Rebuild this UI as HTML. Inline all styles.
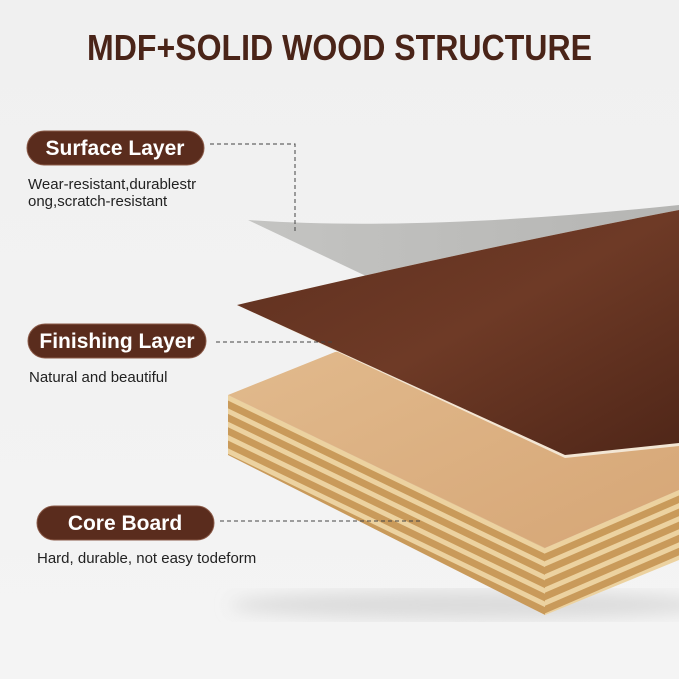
<!DOCTYPE html>
<html><head><meta charset="utf-8"><style>
html,body{margin:0;padding:0;background:#f0f0f0;}
svg{display:block}
text{font-family:"Liberation Sans",sans-serif}
</style></head><body>
<svg width="679" height="679" viewBox="0 0 679 679" xmlns="http://www.w3.org/2000/svg">
<defs>
<linearGradient id="bg" x1="0" y1="0" x2="0" y2="1"><stop offset="0" stop-color="#f0f0f0"/><stop offset="1" stop-color="#f4f4f4"/></linearGradient>
<linearGradient id="wal" x1="0" y1="0" x2="1" y2="1"><stop offset="0" stop-color="#5e2f1f"/><stop offset="0.5" stop-color="#6e3a26"/><stop offset="1" stop-color="#4f2618"/></linearGradient>
<linearGradient id="top" x1="0" y1="0" x2="1" y2="1"><stop offset="0" stop-color="#e2bb8e"/><stop offset="1" stop-color="#d6a676"/></linearGradient>
<linearGradient id="gray" x1="0" y1="0" x2="1" y2="0"><stop offset="0" stop-color="#c4c4c2"/><stop offset="1" stop-color="#b5b5b3"/></linearGradient>
<pattern id="layers" width="10" height="12" patternUnits="userSpaceOnUse" patternTransform="translate(228,395) rotate(25.8)">
<rect width="10" height="12" fill="#ecd2a0"/><rect y="5" width="10" height="7" fill="#c99a5a"/>
</pattern>
<pattern id="layers2" width="10" height="12" patternUnits="userSpaceOnUse" patternTransform="translate(545,548) rotate(-23.4)">
<rect width="10" height="12" fill="#ecd2a0"/><rect y="5" width="10" height="7" fill="#c99a5a"/>
</pattern>
<filter id="blur"><feGaussianBlur stdDeviation="8"/></filter>
</defs>
<rect width="679" height="679" fill="url(#bg)"/>
<text x="339.5" y="60" text-anchor="middle" font-size="36" font-weight="bold" fill="#4a2418" textLength="505" lengthAdjust="spacingAndGlyphs">MDF+SOLID WOOD STRUCTURE</text>

<ellipse cx="470" cy="605" rx="240" ry="14" fill="#dcdcdc" filter="url(#blur)"/>
<polygon points="228,395 545,548 545,615 228,455" fill="url(#layers)"/>
<polygon points="545,548 679,490 679,560 545,615" fill="url(#layers2)"/>
<polygon points="228,395 335,352 679,330 679,490 545,548" fill="url(#top)"/>
<path d="M248,220 Q420,232 679,205 L679,260 L385,285 Z" fill="url(#gray)"/>
<path d="M237,305 Q470,250 679,210 L679,446 L565,458 Z" fill="#f3e6d4"/>
<path d="M237,305 Q470,250 679,210 L679,443 L565,455 Z" fill="url(#wal)"/>

<g fill="#5a2c1d" stroke="#8a5a48" stroke-width="1">
<rect x="27" y="131" width="177" height="34" rx="17"/>
<rect x="28" y="324" width="178" height="34" rx="17"/>
<rect x="37" y="506" width="177" height="34" rx="17"/>
</g>
<g fill="#fff" font-weight="bold" font-size="21" text-anchor="middle">
<text x="115" y="155">Surface Layer</text>
<text x="117" y="348">Finishing Layer</text>
<text x="125" y="530">Core Board</text>
</g>
<g fill="#222" font-size="15">
<text x="28" y="189">Wear-resistant,durablestr</text>
<text x="28" y="206">ong,scratch-resistant</text>
<text x="29" y="382">Natural and beautiful</text>
<text x="37" y="563">Hard, durable, not easy todeform</text>
</g>
<g stroke="#444" stroke-width="1" stroke-dasharray="4,3" fill="none">
<path d="M210,144 H295 V232"/>
<path d="M216,342 H333"/>
<path d="M220,521 H420"/>
</g>
</svg>
</body></html>
